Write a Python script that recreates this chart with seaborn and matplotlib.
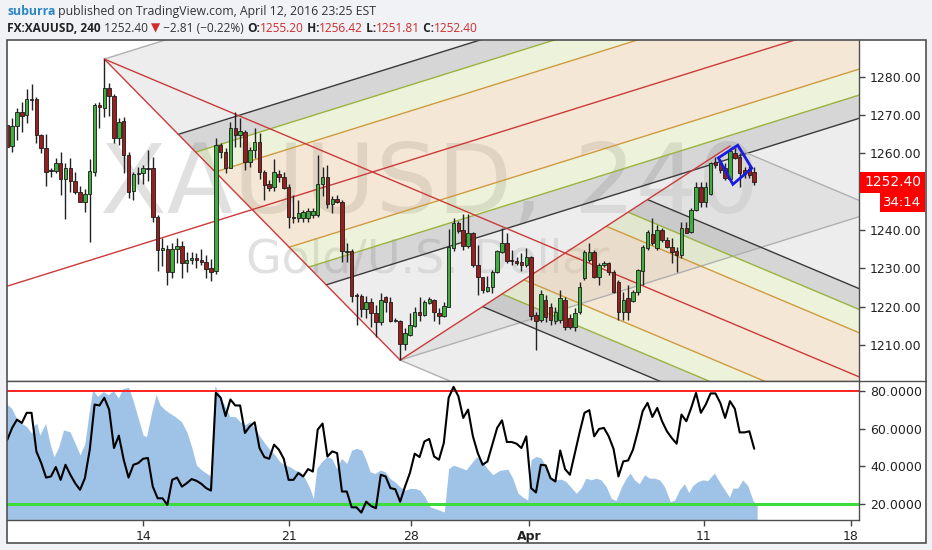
import numpy as np
import pandas as pd
import matplotlib
matplotlib.use("Agg")
import matplotlib.pyplot as plt
import matplotlib.transforms as mtransforms
from matplotlib.patches import Rectangle, Polygon
from matplotlib.lines import Line2D
import seaborn as sns

sns.set_theme(style="white")
plt.rcParams["font.family"] = ["DejaVu Sans"]

# ---------------- data ----------------
opens = [1267.4, 1261.9, 1267.1, 1270.8, 1270.0, 1274.3, 1274.3, 1264.8, 1261.3, 1255.6,
         1255.4, 1257.4, 1253.3, 1256.1, 1252.7, 1250.0, 1247.4, 1249.3, 1255.2, 1272.6,
         1271.9, 1277.1, 1275.0, 1263.9, 1268.4, 1259.6, 1250.1, 1254.5, 1254.8, 1256.1,
         1256.2, 1243.4, 1234.7, 1235.0, 1229.1, 1234.9, 1235.9, 1231.3, 1232.1, 1232.7,
         1232.1, 1231.5, 1230.1, 1229.3, 1262.1, 1260.4, 1256.1, 1266.7, 1264.9, 1265.6,
         1257.6, 1260.9, 1262.9, 1255.2, 1251.9, 1251.3, 1254.5, 1253.9, 1251.3, 1243.4,
         1243.2, 1243.2, 1243.2, 1243.9, 1243.9, 1252.0, 1253.9, 1246.7, 1248.0, 1247.4,
         1234.3, 1234.6, 1223.0, 1222.8, 1219.3, 1221.2, 1218.2, 1216.0, 1222.5, 1221.2,
         1216.3, 1216.3, 1210.2, 1212.5, 1214.9, 1218.6, 1217.8, 1221.0, 1221.7, 1218.4,
         1217.5, 1219.9, 1235.4, 1241.9, 1240.0, 1235.8, 1239.3, 1230.8, 1227.8, 1224.1,
         1225.0, 1229.1, 1234.3, 1236.6, 1232.1, 1231.9, 1231.7, 1230.8, 1233.0, 1217.8,
         1216.5, 1221.7, 1219.9, 1216.3, 1216.5, 1221.7, 1216.9, 1214.7, 1218.6, 1227.4,
         1232.1, 1234.3, 1227.8, 1230.8, 1231.3, 1229.1, 1226.5, 1218.6, 1222.1, 1221.5,
         1223.8, 1229.3, 1235.3, 1238.8, 1235.2, 1240.0, 1237.4, 1235.6, 1234.5, 1233.4,
         1240.4, 1239.4, 1245.2, 1251.3, 1247.4, 1249.3, 1257.8, 1257.4, 1256.2, 1253.3,
         1260.2, 1259.1, 1255.6, 1255.9, 1255.20]
highs = [1267.4, 1269.1, 1271.7, 1273.4, 1276.8, 1278.0, 1274.8, 1265.0, 1265.0, 1256.2,
         1258.8, 1260.4, 1257.4, 1258.8, 1255.0, 1251.5, 1250.7, 1258.5, 1273.2, 1273.4,
         1284.6, 1278.3, 1275.6, 1269.1, 1269.5, 1260.4, 1255.2, 1256.5, 1256.9, 1260.9,
         1259.1, 1243.9, 1237.8, 1236.0, 1236.5, 1237.9, 1237.1, 1234.3, 1234.1, 1233.9,
         1235.0, 1233.4, 1232.4, 1263.9, 1262.6, 1261.3, 1268.2, 1270.7, 1269.1, 1266.1,
         1261.7, 1266.7, 1265.2, 1255.6, 1253.0, 1258.5, 1255.6, 1255.2, 1251.9, 1249.1,
         1247.8, 1245.2, 1245.6, 1245.8, 1259.5, 1256.5, 1256.9, 1248.9, 1249.1, 1247.8,
         1236.7, 1235.0, 1223.4, 1223.2, 1222.8, 1222.1, 1220.4, 1223.4, 1222.7, 1222.5,
         1217.0, 1216.5, 1214.3, 1218.4, 1219.8, 1222.5, 1221.6, 1222.5, 1221.9, 1219.5,
         1221.2, 1240.2, 1243.0, 1242.4, 1244.1, 1244.1, 1239.5, 1236.0, 1227.8, 1227.9,
         1229.5, 1234.8, 1240.4, 1239.1, 1234.7, 1232.8, 1234.0, 1235.2, 1233.2, 1218.6,
         1224.3, 1223.0, 1221.0, 1219.8, 1224.3, 1222.5, 1218.0, 1219.5, 1226.5, 1234.7,
         1236.5, 1234.7, 1231.3, 1231.9, 1231.7, 1229.5, 1226.9, 1223.8, 1225.6, 1224.3,
         1229.9, 1236.0, 1239.9, 1243.0, 1241.3, 1240.4, 1238.2, 1237.8, 1235.6, 1242.1,
         1242.0, 1245.6, 1252.4, 1252.6, 1252.6, 1257.8, 1259.1, 1258.5, 1257.4, 1261.3,
         1261.3, 1260.0, 1256.5, 1256.6, 1256.42]
lows = [1261.7, 1260.4, 1263.4, 1265.5, 1267.8, 1271.3, 1262.8, 1260.2, 1251.5, 1253.9,
        1254.8, 1249.1, 1242.8, 1249.8, 1249.3, 1247.2, 1244.7, 1236.9, 1254.1, 1266.7,
        1269.5, 1269.8, 1262.7, 1262.1, 1254.8, 1248.2, 1247.8, 1252.1, 1252.1, 1252.7,
        1242.1, 1229.3, 1230.6, 1225.6, 1227.5, 1231.3, 1227.5, 1229.1, 1231.0, 1230.0,
        1230.8, 1227.4, 1226.6, 1228.6, 1258.7, 1254.8, 1256.1, 1261.7, 1261.7, 1255.6,
        1256.5, 1258.8, 1253.3, 1247.8, 1250.1, 1250.1, 1252.6, 1250.7, 1240.6, 1241.7,
        1242.0, 1242.1, 1242.1, 1243.0, 1243.4, 1248.9, 1245.8, 1244.3, 1246.9, 1231.7,
        1231.7, 1221.2, 1215.2, 1217.3, 1216.9, 1214.7, 1212.1, 1215.3, 1218.6, 1216.0,
        1216.0, 1206.0, 1208.6, 1212.3, 1214.7, 1216.3, 1217.4, 1220.6, 1216.3, 1215.4,
        1217.3, 1219.8, 1234.6, 1239.1, 1234.7, 1235.4, 1230.4, 1223.0, 1223.4, 1223.9,
        1223.4, 1228.8, 1234.0, 1231.3, 1230.8, 1230.8, 1229.3, 1230.4, 1216.6, 1208.6,
        1216.0, 1215.9, 1215.2, 1215.5, 1215.7, 1213.8, 1214.0, 1213.6, 1218.0, 1226.9,
        1231.7, 1227.4, 1225.6, 1230.4, 1228.2, 1223.4, 1216.5, 1216.5, 1216.5, 1221.2,
        1223.0, 1225.6, 1234.7, 1236.0, 1234.7, 1236.9, 1235.2, 1231.3, 1229.1, 1232.6,
        1239.1, 1239.1, 1244.9, 1246.1, 1246.1, 1249.1, 1256.1, 1254.8, 1253.0, 1253.0,
        1258.5, 1251.3, 1253.5, 1253.6, 1251.81]
closes = [1261.7, 1267.1, 1270.8, 1269.7, 1274.3, 1274.0, 1264.8, 1261.3, 1255.2, 1255.3,
          1257.4, 1253.3, 1256.1, 1252.7, 1249.8, 1247.4, 1249.3, 1255.4, 1272.6, 1272.0,
          1277.1, 1275.0, 1263.9, 1268.2, 1259.6, 1250.0, 1254.5, 1254.9, 1256.1, 1255.9,
          1243.4, 1234.7, 1235.2, 1229.1, 1235.0, 1235.9, 1231.3, 1232.1, 1232.7, 1232.1,
          1231.5, 1229.8, 1229.1, 1262.1, 1260.4, 1256.1, 1266.7, 1264.9, 1265.8, 1257.8,
          1260.9, 1262.9, 1255.2, 1251.7, 1251.0, 1255.2, 1253.9, 1251.0, 1243.4, 1243.0,
          1244.3, 1244.6, 1244.9, 1244.9, 1252.0, 1253.9, 1246.7, 1248.1, 1247.4, 1234.5,
          1234.6, 1222.8, 1222.7, 1219.3, 1221.2, 1218.2, 1216.0, 1221.7, 1221.2, 1216.3,
          1216.5, 1210.2, 1213.0, 1215.2, 1218.6, 1217.8, 1221.2, 1221.9, 1218.6, 1217.5,
          1220.1, 1235.6, 1241.7, 1239.8, 1235.8, 1239.3, 1230.8, 1227.8, 1224.3, 1225.2,
          1229.1, 1234.6, 1236.6, 1231.9, 1231.9, 1231.3, 1230.8, 1232.8, 1217.5, 1216.3,
          1223.3, 1217.3, 1216.6, 1218.6, 1222.1, 1214.7, 1214.7, 1218.4, 1225.2, 1234.3,
          1234.3, 1227.8, 1230.8, 1231.3, 1229.1, 1223.8, 1218.6, 1221.7, 1218.6, 1223.8,
          1229.5, 1235.6, 1239.5, 1236.5, 1240.0, 1237.4, 1235.6, 1234.3, 1233.4, 1240.6,
          1239.3, 1245.2, 1251.3, 1247.4, 1251.3, 1257.4, 1256.9, 1255.6, 1253.5, 1260.6,
          1258.8, 1254.8, 1254.5, 1254.3, 1252.40]

osc_line = [54.2, 60.5, 64.9, 63.1, 68.5, 68.5, 48.0, 41.8, 34.1, 34.7,
            39.7, 32.9, 40.9, 35.6, 31.1, 27.6, 33.8, 48.9, 72.9, 72.4,
            76.5, 70.2, 49.8, 56.4, 43.6, 34.1, 40.9, 41.8, 44.1, 44.5,
            29.3, 23.1, 23.1, 19.6, 32.9, 34.1, 29.3, 31.1, 33.3, 32.4,
            30.8, 28.5, 27.2, 79.1, 76.5, 66.7, 75.6, 72.4, 72.4, 57.8,
            61.3, 63.5, 49.8, 45.0, 44.1, 51.6, 48.9, 44.1, 32.9, 32.9,
            36.5, 34.7, 38.6, 37.3, 59.6, 62.8, 45.3, 48.0, 47.1, 26.7,
            26.7, 18.3, 18.3, 15.5, 21.3, 19.0, 17.8, 35.6, 34.7, 28.5,
            27.9, 21.3, 29.3, 36.5, 46.8, 45.0, 53.3, 54.6, 45.3, 43.6,
            52.5, 76.5, 82.3, 77.3, 65.8,
            70.2, 56.0, 47.1, 40.9, 42.7, 51.6, 60.5, 64.5, 53.0, 53.0,
            52.1, 49.8, 56.0, 28.5, 26.2, 40.9, 40.6, 33.8, 32.0, 48.5,
            38.6, 35.6, 46.8, 58.1, 68.5, 69.9, 56.0, 59.9, 60.5, 56.0,
            49.3, 34.7, 42.7, 43.2, 48.9, 58.7, 69.4, 73.8, 66.3, 71.1,
            64.0, 58.7, 55.1, 52.1, 67.6, 64.0, 71.1, 79.1, 68.5, 72.9,
            78.8, 78.8, 73.8, 65.8, 74.7, 70.6, 58.1, 58.1, 58.7, 49.4]

osc_area_x = [-0.1, 0.9, 1.9, 3.0, 4.0, 5.0, 5.6, 6.1, 6.7, 7.9, 8.8, 9.6, 10.5, 11.6, 12.9,
              14.0, 15.0, 16.0, 16.9, 17.6, 18.6, 19.8, 20.8, 21.9, 22.9, 23.8, 25.0, 26.0,
              27.0, 28.0, 28.7, 29.8, 30.7, 31.5, 32.5, 33.5, 34.6, 35.9, 37.0, 38.0, 39.0,
              40.1, 41.1, 41.9, 42.8, 43.9, 45.9, 47.0, 48.0, 49.0, 50.0, 51.1, 52.1, 53.1,
              54.2, 55.2, 56.2, 57.3, 58.3, 59.3, 60.4, 61.4, 62.4, 63.1, 63.8, 64.8, 65.9,
              66.9, 67.9, 68.9, 70.0, 71.0, 72.0, 73.1, 74.1, 74.8, 75.8, 76.9, 77.9, 78.9,
              79.9, 81.0, 82.0, 83.0, 84.1, 85.1, 86.1, 87.2, 88.2, 89.2, 90.1, 91.0, 92.0,
              93.0, 94.6, 96.7, 97.7, 98.7, 100.1, 101.5, 103.2, 104.2, 105.3, 106.3, 107.3,
              108.0, 109.0, 110.1, 111.1, 112.1, 113.2, 114.2, 115.2, 116.2, 117.3, 118.3,
              119.3, 120.4, 121.4, 122.4, 123.5, 124.5, 125.5, 126.6, 127.6, 128.4, 129.3,
              130.3, 131.4, 132.4, 133.4, 134.5, 135.5, 136.7, 137.6, 138.6, 139.6, 140.5,
              141.3, 142.4, 143.4, 144.4, 145.8, 146.8, 147.9, 148.9, 149.6, 150.6, 151.6,
              152.7, 153.7, 154.6]
osc_area_y = [73.1, 70.9, 65.6, 62.9, 61.2, 57.6, 62.0, 62.9, 56.7, 62.9, 52.3, 45.2, 49.6, 59.4, 58.5,
              52.3, 46.1, 52.3, 69.2, 80.7, 77.2, 79.8, 78.1, 80.2, 76.3, 81.3, 82.0, 74.5,
              65.6, 56.7, 55.8, 69.2, 78.1, 72.7, 70.1, 68.3, 66.5, 63.8, 58.5, 50.5, 40.7,
              38.1, 36.3, 35.0, 83.0, 77.2, 66.5, 66.5, 63.8, 62.1, 63.8, 60.3, 55.8, 52.3,
              48.7, 46.1, 42.5, 40.7, 39.8, 38.1, 37.2, 33.6, 28.3, 23.0, 38.9, 42.5, 45.2,
              44.3, 38.9, 44.3, 41.6, 48.7, 49.6, 48.7, 42.5, 37.2, 36.3, 38.1, 37.2, 33.6,
              31.8, 29.2, 27.4, 28.3, 28.3, 27.4, 23.8, 18.5, 17.6, 16.7, 15.8, 38.9, 40.7,
              39.8, 38.2, 45.0, 43.9, 39.7, 35.6, 37.9, 38.6, 33.8, 25.8, 23.7, 22.2,
              43.6, 45.3, 44.5, 39.7, 34.3, 32.9, 33.3, 32.0, 29.0, 25.8, 28.5,
              33.8, 32.9, 33.8, 32.9, 29.3, 23.1, 21.9, 29.0, 33.8, 36.5, 32.9,
              30.8, 35.6, 33.8, 33.8, 32.9, 29.3, 21.3, 22.2, 27.6, 30.8, 26.2,
              29.7, 32.0, 32.9, 32.5, 36.5, 32.0, 27.6, 23.7, 28.5, 28.5, 32.9,
              29.7, 22.2, 19.0]

date_tick_pos = [28.0, 58.1, 83.2, 107.6, 143.6, 173.9]
date_tick_labels = ["14", "21", "28", "Apr", "11", "18"]
price_ticks = [1210, 1220, 1230, 1240, 1260, 1270, 1280]
osc_ticks = [20, 40, 60, 80]
osc_upper, osc_lower = 80, 20
last_price = 1252.40
countdown = "34:14"

# pitchfork anchors (bar index, price)
pivot_A = (20, 1284.6)
pivot_B = (81, 1206.0)
pivot_C = (149, 1261.9)
handle_1 = (-20, 1217.4)
fork_levels = [0.25, 0.382, 0.5, 1.0]

diamond_x = [146.6, 150.6, 153.5, 149.6]
diamond_y = [1258.8, 1262.1, 1256.1, 1251.9]

# ---------------- layout ----------------
W, H = 932, 550
fig = plt.figure(figsize=(W / 100, H / 100), dpi=100, facecolor="#f0f2f6")
fx = lambda px: px / W
fy = lambda py: 1 - py / H

fig.patches.append(Rectangle((fx(7), fy(543)), fx(926) - fx(7), fy(40) - fy(543),
                             transform=fig.transFigure, facecolor="white",
                             edgecolor="none", zorder=-5))

ax = fig.add_axes([fx(7), fy(381), fx(859) - fx(7), fy(40) - fy(381)])
ax2 = fig.add_axes([fx(7), fy(520), fx(859) - fx(7), fy(381) - fy(520)], sharex=ax)
for a in (ax, ax2):
    a.set_facecolor("white")
    for s in ("left", "top"):
        a.spines[s].set_visible(False)
    for s in ("right", "bottom"):
        a.spines[s].set_color("#505050")
        a.spines[s].set_linewidth(1.0)

XMIN, XMAX = -0.06, 175.6
ax.set_xlim(XMIN, XMAX)
ax.set_ylim(1200.55, 1289.58)
ax2.set_ylim(11.57, 85.4)

# ---------------- watermark ----------------
ax.text(0.4965, 0.4927, "XAUUSD, 240", transform=ax.transAxes, ha="center", va="baseline",
        fontsize=70, color="#e0e0e0", zorder=0.5)
ax.text(0.494, 0.3167, "Gold/U.S. Dollar", transform=ax.transAxes, ha="center", va="baseline",
        fontsize=33, color="#e0e0e0", zorder=0.5)

# ---------------- pitchforks ----------------
RED = "#cc3a3a"
fill_cols = ["#e5bd8a", "#c9dd95", "#8a8a8a", "#cccccc"]
line_cols = ["#cf9b3e", "#9ab33f", "#3a3a3a", "#b0b0b0"]


def draw_fork(handle, p2, p3, x_end=220.0):
    h = np.array(handle, float)
    a = np.array(p2, float)
    b = np.array(p3, float)
    m = (a + b) / 2
    d = m - h

    def ray_end(s):
        return s + (x_end - s[0]) / d[0] * d

    for side in (a, b):
        prev = m
        for k, fc in zip(fork_levels, fill_cols):
            s = m + k * (side - m)
            ax.add_patch(Polygon([prev, ray_end(prev), ray_end(s), s], closed=True,
                                 facecolor=fc, alpha=0.35, edgecolor="none", zorder=1))
            prev = s
        for k, lc in zip(fork_levels, line_cols):
            s = m + k * (side - m)
            e = ray_end(s)
            ax.plot([s[0], e[0]], [s[1], e[1]], color=lc, lw=1.0, zorder=2)
    e = ray_end(m)
    ax.plot([h[0], e[0]], [h[1], e[1]], color=RED, lw=1.0, zorder=2.5)
    ax.plot([a[0], b[0]], [a[1], b[1]], color=RED, lw=1.0, zorder=2.5)


draw_fork(handle_1, pivot_A, pivot_B)
draw_fork(pivot_A, pivot_C, pivot_B)

# ---------------- candles ----------------
df = pd.DataFrame({"o": opens, "h": highs, "l": lows, "c": closes})
df["x"] = np.arange(len(df))
up = df["c"] >= df["o"]
ax.vlines(df["x"], df["l"], df["h"], color="#222222", lw=1.0, zorder=5)
body_h = (df["c"] - df["o"]).abs().clip(lower=0.3)
ax.bar(df["x"], body_h, bottom=np.minimum(df["o"], df["c"]), width=0.72,
       color=np.where(up, "#3fae3f", "#9b1e1e"), edgecolor="#1c1c1c", linewidth=0.6, zorder=6)

ax.add_patch(Polygon(list(zip(diamond_x, diamond_y)), closed=True, fill=False,
                     edgecolor="#1a1ae6", lw=2.0, zorder=7))

# ---------------- axes ticks ----------------
ax.yaxis.tick_right()
ax.set_yticks(price_ticks)
ax.set_yticklabels([f"{v:.2f}" for v in price_ticks])
ax.tick_params(axis="y", which="both", right=True, left=False, labelright=True, labelleft=False,
               length=4, width=1, color="#444444", direction="out", pad=4,
               labelsize=9, labelcolor="#222222")
ax.tick_params(axis="x", which="both", bottom=False, labelbottom=False)

ax2.yaxis.tick_right()
ax2.set_yticks(osc_ticks)
ax2.set_yticklabels([f"{v:.4f}" for v in osc_ticks])
ax2.tick_params(axis="y", which="both", right=True, left=False, labelright=True, labelleft=False,
                length=4, width=1, color="#444444", direction="out", pad=4,
                labelsize=9, labelcolor="#222222")
ax2.set_xticks(date_tick_pos)
ax2.set_xticklabels(date_tick_labels)
ax2.tick_params(axis="x", which="both", bottom=True, length=4, width=1, color="#444444",
                direction="out", pad=3, labelsize=9, labelcolor="#222222")
ax2.get_xticklabels()[3].set_fontweight("bold")

# ---------------- oscillator ----------------
ax2.fill_between(osc_area_x, osc_area_y, 0, color="#9fc3e7", lw=0, zorder=1)
ax2.axhline(osc_upper, color="#ff2020", lw=1.4, zorder=2)
ax2.axhline(osc_lower, color="#3ddc3d", lw=2.2, zorder=2)
sns.lineplot(x=np.arange(len(osc_line)), y=osc_line, ax=ax2, color="black", lw=1.5, zorder=4)
ax2.set_xlabel("")
ax2.set_ylabel("")
ax.set_xlim(XMIN, XMAX)

fig.lines.append(Line2D([fx(7), fx(926)], [fy(381), fy(381)], transform=fig.transFigure,
                        color="#505050", lw=1.0, zorder=10))
fig.patches.append(Rectangle((fx(7), fy(543)), fx(926) - fx(7), fy(40) - fy(543),
                             transform=fig.transFigure, facecolor="none",
                             edgecolor="#505050", lw=1.2, zorder=10))

# ---------------- last price labels ----------------
bt = mtransforms.blended_transform_factory(fig.transFigure, ax.transData)
ax.add_patch(Rectangle((fx(860), last_price - 2.75), fx(925) - fx(860), 5.5, transform=bt,
                       facecolor="#ff0000", edgecolor="none", clip_on=False, zorder=20))
ax.text(fx(892.5), last_price, f"{last_price:.2f}", transform=bt, ha="center", va="center",
        color="white", fontsize=10, zorder=21, clip_on=False)
ax.add_patch(Rectangle((fx(880), last_price - 7.65), fx(925) - fx(880), 4.8, transform=bt,
                       facecolor="#ff0000", edgecolor="none", clip_on=False, zorder=20))
ax.text(fx(902.5), last_price - 5.25, countdown, transform=bt, ha="center", va="center",
        color="white", fontsize=9.5, zorder=21, clip_on=False)

# ---------------- header ----------------
HF = ["Open Sans", "DejaVu Sans"]
renderer = fig.canvas.get_renderer()


def put_segments(segs, x0, ybase, size=8.8):
    x = x0
    for txt, kw in segs:
        t = fig.text(fx(x), fy(ybase), txt, ha="left", va="baseline", fontsize=size,
                     family=HF, **kw)
        bb = t.get_window_extent(renderer=renderer)
        x = bb.x1 * W / fig.bbox.width


DK = {"color": "#333333"}
RD = {"color": "#d12b2b"}
BD = {"color": "#222222", "fontweight": "bold"}
put_segments([("suburra", {"color": "#2b86c5", "fontweight": "bold"}),
              (" published on TradingView.com, April 12, 2016 23:25 EST", DK)], 7, 15)
put_segments([("FX:XAUUSD, 240", BD), (" 1252.40 ", DK), ("▼", RD),
              (" \u22122.81 (\u22120.22%) ", DK),
              ("O:", BD), ("1255.20", RD), (" H:", BD), ("1256.42", RD),
              (" L:", BD), ("1251.81", RD), (" C:", BD), ("1252.40", RD)], 7, 32, size=8.6)

fig.savefig("out.png", dpi=100, facecolor=fig.get_facecolor())
